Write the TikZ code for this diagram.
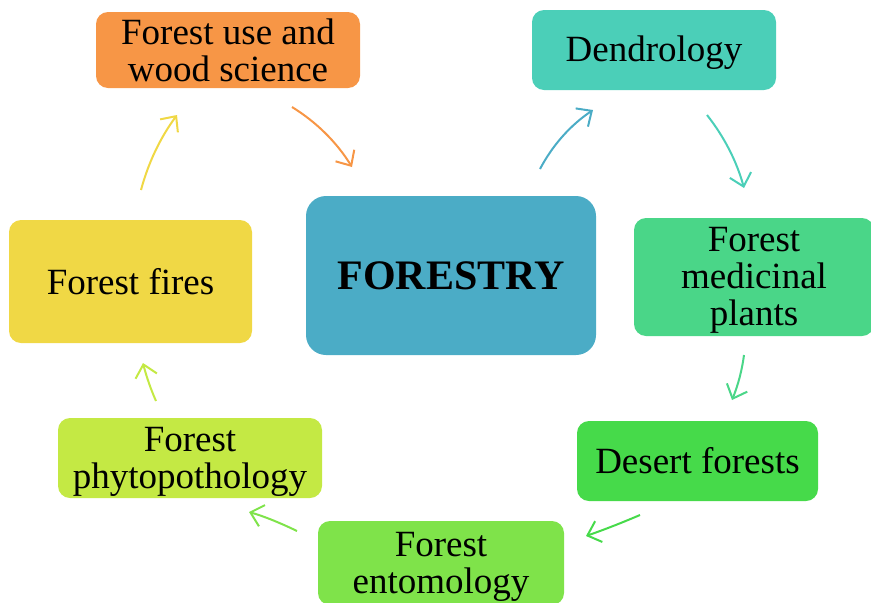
\documentclass[tikz,border=0pt]{standalone}
\usepackage{fontspec}
\setmainfont{Liberation Serif}
\usetikzlibrary{arrows.meta}
\definecolor{cOrange}{RGB}{247,150,70}
\definecolor{cTeal}{RGB}{75,207,184}
\definecolor{cBlue}{RGB}{75,172,198}
\definecolor{cMed}{RGB}{74,214,136}
\definecolor{cDesert}{RGB}{70,218,74}
\definecolor{cEnto}{RGB}{127,227,74}
\definecolor{cPhyto}{RGB}{196,233,68}
\definecolor{cFire}{RGB}{240,216,69}
\newcommand\bs{\rule[-6pt]{0pt}{37pt}}
\tikzset{
  box/.style={rounded corners=12pt, inner sep=0pt, align=center, text=black,
    font=\fontsize{37}{37}\selectfont},
  centerbox/.style={rounded corners=20pt, inner sep=0pt, align=center, text=black,
    font=\fontsize{42}{46}\selectfont\bfseries},
  conn/.style={line width=2pt, -{Straight Barb[length=12pt,width=22pt,line width=2pt]}}
}
\begin{document}
\begin{tikzpicture}[x=1pt,y=-1pt]
\useasboundingbox (0,0) rectangle (871,603);
\node[box, fill=cOrange, minimum width=264pt, minimum height=76pt] (use) at (228,50) {\bs Forest use and\\wood science\bs};
\node[box, fill=cTeal, minimum width=244pt, minimum height=80pt] (dendro) at (654,50) {\bs Dendrology\bs};
\node[centerbox, fill=cBlue, minimum width=290pt, minimum height=159pt] (forestry) at (451,275.5) {FORESTRY};
\node[box, fill=cMed, minimum width=240pt, minimum height=118pt] (med) at (754,277) {\bs Forest\\medicinal\\plants\bs};
\node[box, fill=cDesert, minimum width=241pt, minimum height=80pt] (desert) at (697.5,461) {\bs Desert forests\bs};
\node[box, fill=cEnto, minimum width=246pt, minimum height=84pt] (ento) at (441,563) {\bs Forest\\entomology\bs};
\node[box, fill=cPhyto, minimum width=264pt, minimum height=80pt] (phyto) at (190,458) {\bs Forest\\phytopothology\bs};
\node[box, fill=cFire, minimum width=243pt, minimum height=123pt] (fire) at (130.5,281.5) {\bs Forest fires\bs};
% arrow end points
\coordinate (a1s) at (292,107); \coordinate (a1e) at (352,167);
\coordinate (a2s) at (540,169); \coordinate (a2e) at (593,110);
\coordinate (a3s) at (707,115); \coordinate (a3e) at (744,188);
\coordinate (a4s) at (744,355); \coordinate (a4e) at (732,400);
\coordinate (a5s) at (640,515); \coordinate (a5e) at (586,536);
\coordinate (a6s) at (297,531); \coordinate (a6e) at (249,512);
\coordinate (a7s) at (156,401); \coordinate (a7e) at (143,363);
\coordinate (a8s) at (141,190); \coordinate (a8e) at (177,115);
\draw[conn, cOrange] (a1s) .. controls (316.7,122.3) and (336.7,142.3) .. (a1e);
\draw[conn, cBlue] (a2s) .. controls (552.7,145) and (570.3,125.3) .. (a2e);
\draw[conn, cTeal] (a3s) .. controls (724.3,137) and (736.7,161.3) .. (a3e);
\draw[conn, cMed] (a4s) .. controls (742,370.3) and (738,385.3) .. (a4e);
\draw[conn, cDesert] (a5s) .. controls (621.3,523) and (603.3,530) .. (a5e);
\draw[conn, cEnto] (a6s) .. controls (279,522.3) and (263,516) .. (a6e);
\draw[conn, cPhyto] (a7s) .. controls (150.7,389) and (146.3,376.3) .. (a7e);
\draw[conn, cFire] (a8s) .. controls (148.3,162.7) and (160.3,137.7) .. (a8e);
\end{tikzpicture}
\end{document}
